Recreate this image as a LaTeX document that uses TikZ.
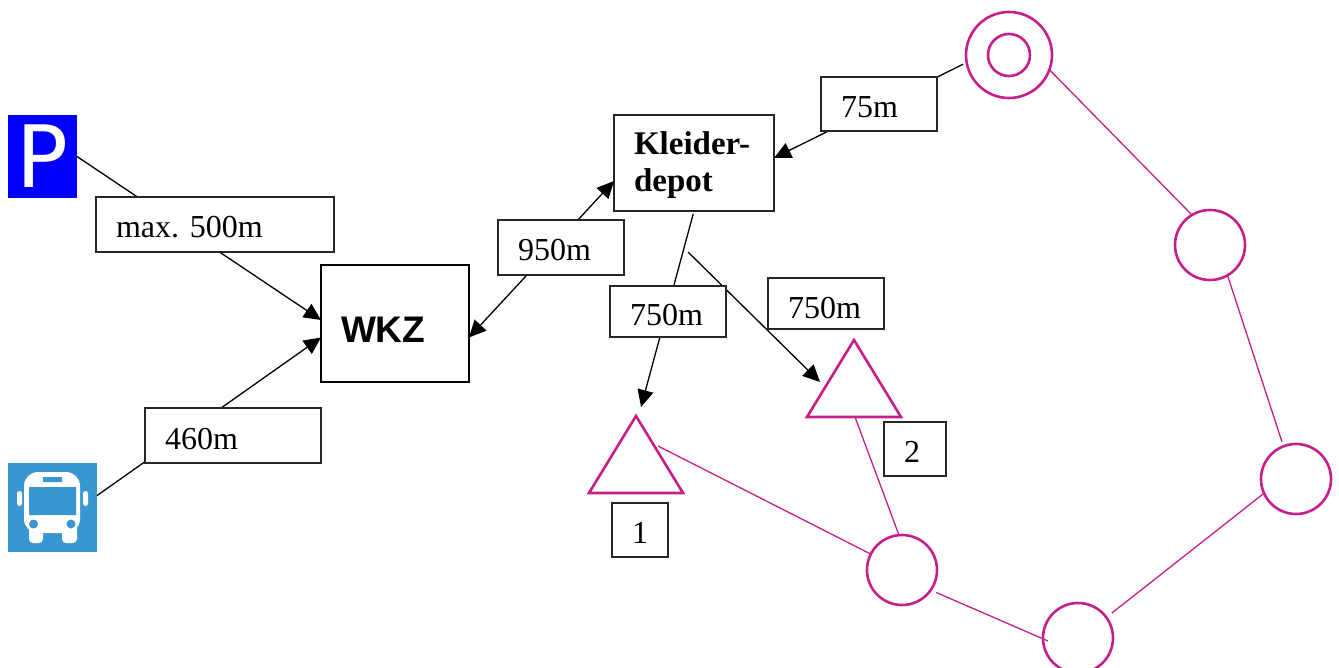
\documentclass[tikz,border=0pt]{standalone}
\usepackage{fontspec}
\setmainfont{Liberation Serif}
\setsansfont{Liberation Sans}
\newfontfamily\parkfont{DejaVu Sans}
\usetikzlibrary{arrows.meta,shapes.geometric}
\definecolor{stopcol}{HTML}{C71E8C}
\definecolor{buscol}{HTML}{3A96D2}
\tikzset{
	dist/.style={draw=black!85,line width=1.3pt,fill=white,font=\fontsize{32}{36}\selectfont,minimum height=#1,text height=27pt,text depth=0pt,anchor=north west,inner xsep=20pt,inner ysep=0pt,outer sep=0pt,align=left},
	walk/.style={-{Triangle[length=17pt,width=16pt]},line width=1.3pt,black},
	stop/.style={circle,draw=stopcol,line width=2.6pt,minimum size=70pt,inner sep=0pt,outer sep=0pt},
	flag/.style={isosceles triangle,isosceles triangle apex angle=63,isosceles triangle stretches,shape border rotate=90,draw=stopcol,line width=2.6pt,minimum width=94pt,minimum height=77pt,inner sep=0pt,outer sep=0pt,anchor=apex},
	route/.style={stopcol,line width=1.3pt}
}
\begin{document}
\begin{tikzpicture}[x=1pt,y=-1pt]
	\useasboundingbox (0,0) rectangle (1339,668);
	\node[fill=blue,text=white,minimum width=69pt,minimum height=83pt,inner sep=0pt,outer sep=0pt,anchor=north west,font=\parkfont\fontsize{86}{86}\selectfont] (park) at (8,115) {P};
	\node[fill=buscol,minimum size=89pt,inner sep=0pt,outer sep=0pt,anchor=north west] (bus) at (8,463) {};
	\fill[white,rounded corners=14pt] (24,472) rectangle (80,533);
	\fill[white,rounded corners=2.5pt] (17,491) rectangle (22,506) (83,491) rectangle (88,506);
	\fill[white,rounded corners=4pt] (29,525) rectangle (43,543) (62,525) rectangle (77,543);
	\fill[buscol] (43,477) rectangle (62,482) (29,487) rectangle (76,515);
	\fill[buscol] (33.5,524) circle (4.5pt) (71,524) circle (4.5pt);
	\node[draw,line width=2.2pt,text width=108pt,minimum height=117pt,text height=39pt,text depth=0pt,inner xsep=20pt,inner ysep=0pt,outer sep=0pt,anchor=north west,align=left,font=\sffamily\bfseries\fontsize{37}{40}\selectfont] (wkz) at (321,265) {WKZ};
	\node[draw=black!85,line width=1.3pt,text width=120pt,minimum height=96pt,inner xsep=20pt,inner ysep=0pt,outer sep=0pt,anchor=north west,align=left,font=\bfseries\fontsize{33}{37}\selectfont] (depot) at (614,115) {\rule{0pt}{28pt}Kleider-\\depot};
	\node[stop,minimum size=86pt] (ring) at (1009,55) {};
	\node[stop,minimum size=42pt] (ringin) at (1009,55) {};
	\node[stop] (hallA) at (1210,245) {};
	\node[stop] (hallB) at (1296,479) {};
	\node[stop] (hallC) at (1078,638) {};
	\node[stop] (hallD) at (902,570) {};
	\node[flag] (tri1) at (636,416) {};
	\node[flag] (tri2) at (854,340) {};
	\coordinate (fork) at (688,252);
	\draw[walk] (park.east) -- ([yshift=3.5pt]wkz.west);
	\draw[walk] (bus.15) -- ([yshift=-14pt]wkz.west);
	\draw[walk,{Triangle[length=17pt,width=16pt]}-{Triangle[length=17pt,width=16pt]}] ([yshift=-14pt]wkz.east) -- ([yshift=-18pt]depot.west);
	\draw[walk,shorten <=4pt] (ring.190) -- ([yshift=5pt]depot.east);
	\draw[walk,shorten <=3pt] (depot.south) -- ([xshift=5pt,yshift=9pt]tri1.apex);
	\draw[walk] (fork) -- ([xshift=-34pt,yshift=-42pt]tri2.apex);
	\draw[route] (ring.-20) -- (hallA.121);
	\draw[route,shorten >=5pt] (hallA.-60) -- (hallB.111);
	\draw[route,shorten >=7pt] (hallB.-156) -- (hallC.36);
	\draw[route,shorten >=6pt] ([xshift=5pt,yshift=-3pt]hallC.west) -- (hallD.-35);
	\draw[route] (hallD.153) -- ([xshift=22pt,yshift=-30pt]tri1.apex);
	\draw[route] (hallD.95) -- ([xshift=1pt]tri2.south);
	\node[dist=55pt,text width=198pt] (lblpark) at (96,197) {max.\ 500m};
	\node[dist=55pt,text width=136pt] (lblbus) at (145,408) {460m};
	\node[dist=55pt,text width=86pt] (lbldepot) at (498,220) {950m};
	\node[dist=54pt,text width=76pt] (lblring) at (821,77) {75m};
	\node[dist=51pt,text width=76pt,text height=29pt] (lbltri1) at (610,286) {750m};
	\node[dist=51pt,text width=76pt,text height=31pt] (lbltri2) at (768,278) {750m};
	\node[dist=54pt,text width=16pt] (num1) at (612,503) {1};
	\node[dist=54pt,text width=22pt] (num2) at (884,422) {2};
\end{tikzpicture}
\end{document}
